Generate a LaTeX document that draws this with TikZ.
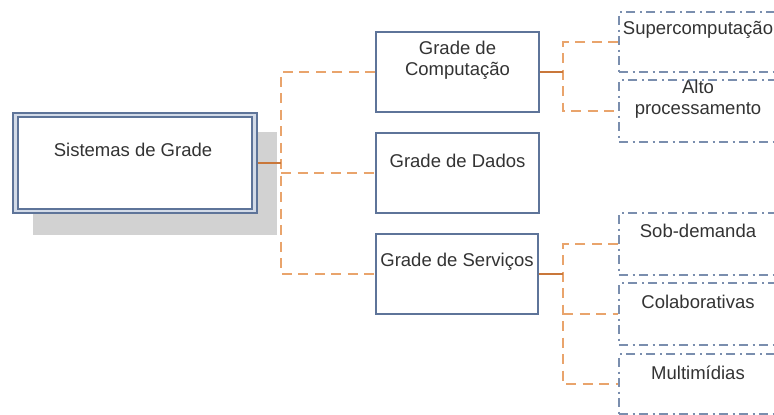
\documentclass[tikz,border=0pt]{standalone}
\usepackage{fontspec}
\setmainfont{Liberation Sans}
\begin{document}
\begin{tikzpicture}[x=1pt,y=-1pt,
  txt/.style={text=black!80, font=\fontsize{18.5}{21}\selectfont, align=center, inner sep=0pt},
  boxA/.style={draw=boxline, line width=1.7pt, fill=white, rectangle, inner sep=0pt},
  boxB/.style={draw=dashline, line width=2pt, rectangle, inner sep=0pt,
               dash pattern=on 9pt off 4.5pt on 2pt off 4.5pt},
  link/.style={draw=linkorange, line width=2.1pt, dash pattern=on 10pt off 6.5pt},
  stub/.style={draw=stuborange, line width=2.5pt}]
\definecolor{boxline}{HTML}{5E7499}
\definecolor{dashline}{HTML}{7A8EAE}
\definecolor{linkorange}{HTML}{E9A46C}
\definecolor{stuborange}{HTML}{C9773A}
\definecolor{shadowgray}{HTML}{D2D2D2}
\definecolor{bandblue}{HTML}{D3DBE8}

\clip (0,0) rectangle (774,415);
\fill[white] (0,0) rectangle (774,415);

% root box with shadow and double frame
\fill[shadowgray] (33,132) rectangle (277,235);
\node[boxA, fill=bandblue, minimum width=244pt, minimum height=100pt] (root) at (135,163) {};
\node[boxA, line width=1.4pt, minimum width=234pt, minimum height=92pt] (rootin) at (135,163) {};
\node[txt] (troot) at (133,150) {Sistemas de Grade};

% second level
\node[boxA, minimum width=163pt, minimum height=80pt] (comp) at (457.5,72) {};
\node[txt] (tcomp) at (457.5,60) {Grade de\\Computação};
\node[boxA, minimum width=163pt, minimum height=80pt] (dados) at (457.5,173) {};
\node[txt] (tdados) at (457.5,161) {Grade de Dados};
\node[boxA, minimum width=162pt, minimum height=80pt] (serv) at (457,274) {};
\node[txt] (tserv) at (457,262) {Grade de Serviços};

% third level
\node[boxB, minimum width=158pt, minimum height=60pt] (super) at (698,42) {};
\node[txt] (tsuper) at (698,30) {Supercomputação};
\node[boxB, minimum width=158pt, minimum height=62pt] (alto) at (698,111) {};
\node[txt] (talto) at (698,99) {Alto\\processamento};
\node[boxB, minimum width=158pt, minimum height=62pt] (sob) at (698,244) {};
\node[txt] (tsob) at (698,231) {Sob-demanda};
\node[boxB, minimum width=158pt, minimum height=62pt] (colab) at (698,314) {};
\node[txt] (tcolab) at (698,302) {Colaborativas};
\node[boxB, minimum width=158pt, minimum height=60pt] (multi) at (698,384) {};
\node[txt] (tmulti) at (698,373) {Multimídias};

% junction points
\coordinate (j0) at (281,163);
\coordinate (j1) at (563,72);
\coordinate (j2) at (563,274);

% connectors from the root
\draw[link] (comp.west) -| (j0) |- (serv.west);
\draw[link] (j0 |- dados.west) -- (dados.west);
\draw[stub] (root.east) -- (j0);

% connectors from Grade de Computação
\draw[link] (super.west) -| (j1) |- (alto.west);
\draw[stub] (comp.east) -- (j1);

% connectors from Grade de Serviços
\draw[link] (sob.west) -| (j2) |- (multi.west);
\draw[link] (j2 |- colab.west) -- (colab.west);
\draw[stub] (serv.east) -- (j2);
\end{tikzpicture}
\end{document}
